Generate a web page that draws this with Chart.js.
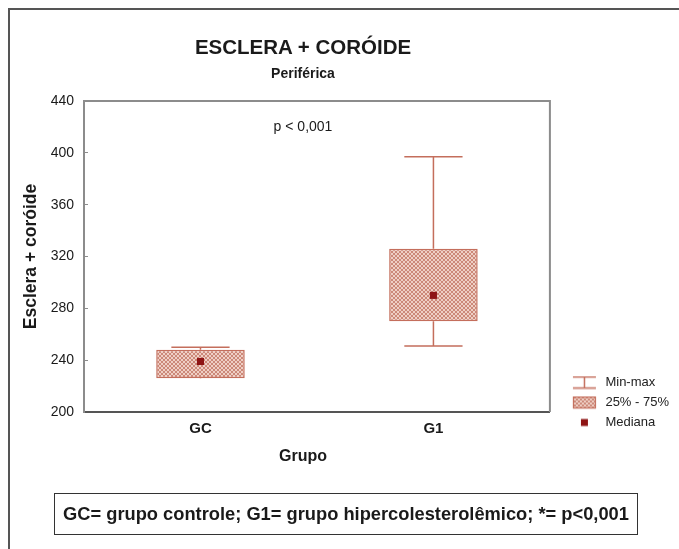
<!DOCTYPE html>
<html>
<head>
<meta charset="utf-8">
<script src="https://cdn.jsdelivr.net/npm/chart.js@4.4.0/dist/chart.umd.min.js"></script>
<style>
  body { margin: 0; background: #fff; font-family: "Liberation Sans", Arial, sans-serif; color: #1a1a1a; }
  #wrap { position: relative; width: 679px; height: 549px; overflow: hidden; }
  #moldura { position: absolute; left: 8px; top: 8px; width: 700px; height: 600px; border-left: 2px solid #555; border-top: 2px solid #555; }
  canvas { position: absolute; left: 0; top: 0; }
  .txt { position: absolute; left: 153px; width: 300px; text-align: center; z-index: 2; }
  #titulo { top: 34px; font-size: 20.5px; line-height: 26px; font-weight: bold; }
  #subtitulo { top: 64px; font-size: 14px; line-height: 18px; font-weight: bold; }
  #pvalor { top: 117px; font-size: 14px; line-height: 18px; }
  #grupo { top: 446px; font-size: 16px; line-height: 20px; font-weight: bold; }
  #nota { position: absolute; left: 54px; top: 493px; width: 582px; height: 40px; border: 1.5px solid #333;
          font-size: 18.3px; font-weight: bold; line-height: 40px; text-align: center; z-index: 2; letter-spacing: 0px; }
</style>
</head>
<body>
<div id="wrap">
  <div id="moldura"></div>
  <canvas id="grafico" width="679" height="549"></canvas>
  <div class="txt" id="titulo">ESCLERA + CORÓIDE</div>
  <div class="txt" id="subtitulo">Periférica</div>
  <div class="txt" id="pvalor">p &lt; 0,001</div>
  <div class="txt" id="grupo">Grupo</div>
  <div id="nota">GC= grupo controle; G1= grupo hipercolesterolêmico; *= p&lt;0,001</div>
</div>
<script>
const grupos = ['GC', 'G1']
const minimos = [227, 251]
const q1 = [226, 270]
const medianas = [239, 290]
const q3 = [248, 326]
const maximos = [250, 397]
const yTicks = [200, 240, 280, 320, 360, 400, 440]
const legendas = ['Min-max', '25% - 75%', 'Mediana']

const borda = '#c46e5c'
const corMediana = '#8e1414'

const canvas = document.getElementById('grafico')
const ctx0 = canvas.getContext('2d')

// textura hachurada da caixa
const tile = document.createElement('canvas')
tile.width = 4
tile.height = 4
const tc = tile.getContext('2d')
tc.fillStyle = '#efcfc5'
tc.fillRect(0, 0, 4, 4)
tc.fillStyle = '#cc8979'
for (let i = 0; i < 4; i++) {
    tc.fillRect(i, i, 1, 1)
    tc.fillRect(3 - i, i, 1, 1)
}
const hachura = ctx0.createPattern(tile, 'repeat')

// icones da legenda
const icone = (desenha) => {
    const c = document.createElement('canvas')
    c.width = 42
    c.height = 14
    const g = c.getContext('2d')
    desenha(g)
    return c
}
const iconeMinMax = icone((g) => {
    g.strokeStyle = borda
    g.lineWidth = 1.5
    g.beginPath()
    g.moveTo(16, 1.5); g.lineTo(39, 1.5)
    g.moveTo(16, 12.5); g.lineTo(39, 12.5)
    g.moveTo(27.5, 1.5); g.lineTo(27.5, 12.5)
    g.stroke()
})
const iconeCaixa = icone((g) => {
    g.fillStyle = g.createPattern(tile, 'repeat')
    g.fillRect(16, 1, 23, 12)
    g.strokeStyle = borda
    g.lineWidth = 1.2
    g.strokeRect(16.5, 1.5, 22, 11)
})
const iconeMediana = icone((g) => {
    g.fillStyle = corMediana
    g.fillRect(24, 3.5, 7, 7)
})
const icones = [iconeMinMax, iconeCaixa, iconeMediana]

const bigotes = {
    id: 'bigotes',
    beforeDatasetsDraw(chart) {
        const { ctx, scales: { x, y } } = chart
        const meia = x.width / grupos.length * 0.125
        ctx.save()
        ctx.strokeStyle = borda
        ctx.lineWidth = 1.5
        grupos.forEach((g, i) => {
            const cx = x.getPixelForValue(i)
            const yMax = y.getPixelForValue(maximos[i])
            const yMin = y.getPixelForValue(minimos[i])
            ctx.beginPath()
            ctx.moveTo(cx, y.getPixelForValue(q3[i])); ctx.lineTo(cx, yMax)
            ctx.moveTo(cx, y.getPixelForValue(q1[i])); ctx.lineTo(cx, yMin)
            ctx.moveTo(cx - meia, yMax); ctx.lineTo(cx + meia, yMax)
            ctx.moveTo(cx - meia, yMin); ctx.lineTo(cx + meia, yMin)
            ctx.stroke()
        })
        ctx.restore()
    }
}

const moldura = {
    id: 'moldura',
    beforeDatasetsDraw(chart) {
        const { ctx, chartArea: a } = chart
        ctx.save()
        ctx.strokeStyle = '#8c8c8c'
        ctx.lineWidth = 2
        ctx.beginPath()
        ctx.moveTo(a.left, a.top)
        ctx.lineTo(a.right, a.top)
        ctx.lineTo(a.right, a.bottom)
        ctx.stroke()
        ctx.restore()
    }
}

const data = {
    labels: grupos,
    datasets: [
        {
            type: 'bar',
            label: '25% - 75%',
            data: grupos.map((g, i) => [q1[i], q3[i]]),
            backgroundColor: hachura,
            borderColor: borda,
            borderWidth: 1.5,
            borderSkipped: false,
            barPercentage: 0.38,
            categoryPercentage: 1,
            grouped: false,
            order: 2
        },
        {
            type: 'line',
            label: 'Mediana',
            data: medianas,
            showLine: false,
            pointStyle: 'rect',
            pointRadius: 5,
            pointHoverRadius: 5,
            backgroundColor: corMediana,
            borderColor: corMediana,
            borderWidth: 0,
            order: 1
        }
    ]
}

new Chart(canvas, {
    data,
    plugins: [moldura, bigotes],
    options: {
        responsive: false,
        animation: false,
        devicePixelRatio: 1,
        layout: { padding: { left: 9, top: 101, right: 0, bottom: 113 } },
        plugins: {
            title: { display: false },
            tooltip: { enabled: false },
            legend: {
                position: 'right',
                align: 'end',
                onClick: null,
                labels: {
                    usePointStyle: true,
                    pointStyleWidth: 42,
                    padding: 7,
                    color: '#222',
                    font: { family: '"Liberation Sans", Arial, sans-serif', size: 13 },
                    generateLabels: () => legendas.map((t, i) => ({
                        text: t,
                        pointStyle: icones[i],
                        fillStyle: 'transparent',
                        strokeStyle: 'transparent',
                        lineWidth: 0,
                        fontColor: '#222',
                        hidden: false,
                        datasetIndex: i
                    }))
                }
            }
        },
        scales: {
            x: {
                type: 'category',
                offset: true,
                afterFit: (s) => { s.height = 24 },
                grid: { display: false, drawTicks: false },
                border: { display: true, color: '#555', width: 2 },
                ticks: {
                    padding: 8,
                    color: '#1a1a1a',
                    font: { family: '"Liberation Sans", Arial, sans-serif', size: 15, weight: 'bold' }
                }
            },
            y: {
                min: yTicks[0],
                max: yTicks[yTicks.length - 1],
                afterFit: (s) => { s.width = 75 },
                afterBuildTicks: (s) => { s.ticks = yTicks.map((v) => ({ value: v })) },
                grid: { display: true, drawOnChartArea: false, drawTicks: true, tickLength: -4, color: '#8c8c8c' },
                border: { display: true, color: '#8c8c8c', width: 2 },
                ticks: {
                    padding: 14,
                    color: '#1a1a1a',
                    font: { family: '"Liberation Sans", Arial, sans-serif', size: 14 }
                },
                title: {
                    display: true,
                    text: 'Esclera + coróide',
                    color: '#1a1a1a',
                    padding: { top: 12, bottom: 0 },
                    font: { family: '"Liberation Sans", Arial, sans-serif', size: 17.5, weight: 'bold' }
                }
            }
        }
    }
})
</script>
</body>
</html>
